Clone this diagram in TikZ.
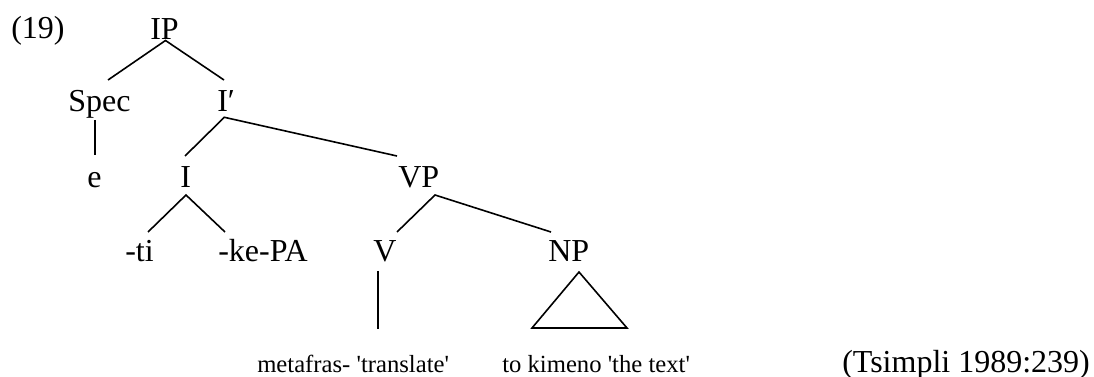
\documentclass[tikz,border=0pt]{standalone}
\usepackage{fontspec}
\setmainfont{Liberation Serif}
\begin{document}
\begin{tikzpicture}[x=0.75pt,y=-0.75pt,
  lbl/.style={anchor=base west,inner sep=0pt,font=\fontsize{24}{28}\selectfont},
  sm/.style={anchor=base west,inner sep=0pt,font=\fontsize{18.5}{22}\selectfont},
  edge/.style={line width=1.2pt}]
\useasboundingbox (0,0) rectangle (1094,377);
\node[lbl] (ex) at (11,39) {(19)};
\node[lbl] (IP) at (150,40) {IP};
\node[lbl] (Spec) at (68,112) {Spec};
\node[lbl] (Ib) at (217,112) {I′};
\node[lbl] (e) at (87,188) {e};
\node[lbl] (I) at (180,188) {I};
\node[lbl] (VP) at (398,188) {VP};
\node[lbl] (ti) at (125,262) {-ti};
\node[lbl] (kepa) at (218,262) {-ke-PA};
\node[lbl] (V) at (373,262) {V};
\node[lbl] (NP) at (548,262) {NP};
\node[sm] (meta) at (257,372) {metafras- \textquotesingle translate\textquotesingle};
\node[sm] (kim) at (502,372) {to kimeno \textquotesingle the text\textquotesingle};
\node[lbl] (src) at (842,372) {(Tsimpli 1989:239)};
% edges
\draw[edge] ([shift={(40,-32)}]Spec.base west) -- ([shift={(15.5,0.5)}]IP.base west) -- ([shift={(7,-32)}]Ib.base west);
\draw[edge] ([shift={(27,8)}]Spec.base west) -- ([shift={(8,-33)}]e.base west);
\draw[edge] ([shift={(5,-32)}]I.base west) -- ([shift={(7.3,5.3)}]Ib.base west) -- ([shift={(-1,-32)}]VP.base west);
\draw[edge] ([shift={(23,-30)}]ti.base west) -- ([shift={(6,7)}]I.base west) -- ([shift={(7,-30)}]kepa.base west);
\draw[edge] ([shift={(24,-30)}]V.base west) -- ([shift={(37,7)}]VP.base west) -- ([shift={(3,-30)}]NP.base west);
\draw[edge] ([shift={(5,9)}]V.base west) -- ([shift={(121,-43)}]meta.base west);
\draw[edge,line join=miter] ([shift={(31,10)}]NP.base west) -- ([shift={(-16,66)}]NP.base west) -- ([shift={(79,66)}]NP.base west) -- cycle;
\end{tikzpicture}
\end{document}
